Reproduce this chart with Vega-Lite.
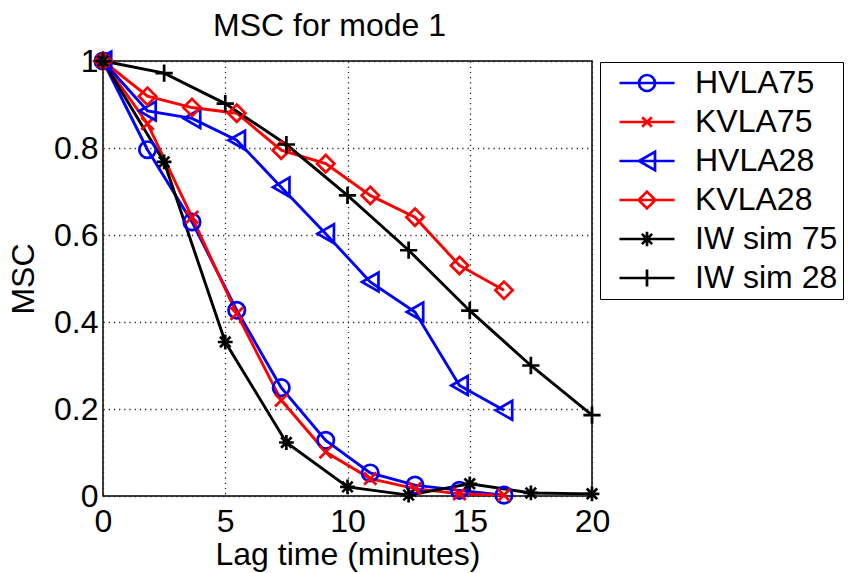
{
  "$schema": "https://vega.github.io/schema/vega-lite/v6.json",
  "width": 489,
  "height": 435,
  "autosize": {"type": "none"},
  "padding": {"left": 103, "top": 61, "right": 267, "bottom": 77},
  "background": "white",
  "config": {
    "font": "Liberation Sans",
    "view": {"stroke": "black", "strokeWidth": 1.5},
    "axis": {
      "labelFontSize": 32,
      "titleFontSize": 32,
      "labelColor": "black",
      "titleColor": "black",
      "titleFontWeight": "normal",
      "labelFlush": false,
      "labelOverlap": false,
      "labelBound": false,
      "domain": false,
      "ticks": false,
      "grid": true,
      "gridDash": [1.2, 4],
      "gridColor": "#222222",
      "gridWidth": 1.3
    }
  },
  "title": {
    "text": "MSC for mode 1",
    "fontSize": 32,
    "fontWeight": "normal",
    "color": "black",
    "anchor": "middle",
    "dx": -18,
    "offset": 2
  },
  "data": {
    "values": [
      {"s": "HVLA75", "x": 0, "y": 1}, {"s": "HVLA75", "x": 1.82, "y": 0.796}, {"s": "HVLA75", "x": 3.64, "y": 0.63}, {"s": "HVLA75", "x": 5.47, "y": 0.427}, {"s": "HVLA75", "x": 7.29, "y": 0.249}, {"s": "HVLA75", "x": 9.11, "y": 0.128}, {"s": "HVLA75", "x": 10.93, "y": 0.053}, {"s": "HVLA75", "x": 12.76, "y": 0.025}, {"s": "HVLA75", "x": 14.58, "y": 0.013}, {"s": "HVLA75", "x": 16.4, "y": 0.002},
      {"s": "KVLA75", "x": 0, "y": 1}, {"s": "KVLA75", "x": 1.82, "y": 0.856}, {"s": "KVLA75", "x": 3.64, "y": 0.641}, {"s": "KVLA75", "x": 5.47, "y": 0.419}, {"s": "KVLA75", "x": 7.29, "y": 0.22}, {"s": "KVLA75", "x": 9.11, "y": 0.101}, {"s": "KVLA75", "x": 10.93, "y": 0.04}, {"s": "KVLA75", "x": 12.76, "y": 0.017}, {"s": "KVLA75", "x": 14.58, "y": 0.005}, {"s": "KVLA75", "x": 16.4, "y": 0.002},
      {"s": "HVLA28", "x": 0, "y": 1}, {"s": "HVLA28", "x": 1.82, "y": 0.885}, {"s": "HVLA28", "x": 3.64, "y": 0.868}, {"s": "HVLA28", "x": 5.47, "y": 0.818}, {"s": "HVLA28", "x": 7.29, "y": 0.71}, {"s": "HVLA28", "x": 9.11, "y": 0.603}, {"s": "HVLA28", "x": 10.93, "y": 0.492}, {"s": "HVLA28", "x": 12.76, "y": 0.423}, {"s": "HVLA28", "x": 14.58, "y": 0.254}, {"s": "HVLA28", "x": 16.4, "y": 0.197},
      {"s": "KVLA28", "x": 0, "y": 1}, {"s": "KVLA28", "x": 1.82, "y": 0.919}, {"s": "KVLA28", "x": 3.64, "y": 0.893}, {"s": "KVLA28", "x": 5.47, "y": 0.88}, {"s": "KVLA28", "x": 7.29, "y": 0.795}, {"s": "KVLA28", "x": 9.11, "y": 0.764}, {"s": "KVLA28", "x": 10.93, "y": 0.691}, {"s": "KVLA28", "x": 12.76, "y": 0.641}, {"s": "KVLA28", "x": 14.58, "y": 0.53}, {"s": "KVLA28", "x": 16.4, "y": 0.473},
      {"s": "IW sim 75", "x": 0, "y": 1}, {"s": "IW sim 75", "x": 2.5, "y": 0.768}, {"s": "IW sim 75", "x": 5, "y": 0.354}, {"s": "IW sim 75", "x": 7.5, "y": 0.123}, {"s": "IW sim 75", "x": 10, "y": 0.021}, {"s": "IW sim 75", "x": 12.5, "y": 0.002}, {"s": "IW sim 75", "x": 15, "y": 0.028}, {"s": "IW sim 75", "x": 17.5, "y": 0.007}, {"s": "IW sim 75", "x": 20, "y": 0.005},
      {"s": "IW sim 28", "x": 0, "y": 1}, {"s": "IW sim 28", "x": 2.5, "y": 0.972}, {"s": "IW sim 28", "x": 5, "y": 0.902}, {"s": "IW sim 28", "x": 7.5, "y": 0.808}, {"s": "IW sim 28", "x": 10, "y": 0.691}, {"s": "IW sim 28", "x": 12.5, "y": 0.565}, {"s": "IW sim 28", "x": 15, "y": 0.426}, {"s": "IW sim 28", "x": 17.5, "y": 0.3}, {"s": "IW sim 28", "x": 20, "y": 0.186}
    ]
  },
  "encoding": {
    "x": {
      "field": "x", "type": "quantitative",
      "scale": {"domain": [0, 20], "nice": false, "zero": false},
      "axis": {"title": "Lag time (minutes)", "values": [0, 5, 10, 15, 20], "labelPadding": 10, "titlePadding": 2}
    },
    "y": {
      "field": "y", "type": "quantitative",
      "scale": {"domain": [0, 1], "nice": false},
      "axis": {"title": "MSC", "values": [0, 0.2, 0.4, 0.6, 0.8, 1], "format": "~g", "labelPadding": 5, "titlePadding": 13}
    }
  },
  "layer": [
    {
      "mark": {"type": "line", "strokeWidth": 2.9, "clip": false},
      "encoding": {
        "color": {"field": "s", "type": "nominal", "legend": null,
          "scale": {"domain": ["HVLA75", "KVLA75", "HVLA28", "KVLA28", "IW sim 75", "IW sim 28"], "range": ["#0000ff", "#ff0000", "#0000ff", "#ff0000", "#000000", "#000000"]}}
      }
    },
    {
      "mark": {"type": "point", "filled": false, "size": 270, "strokeWidth": 2.7, "opacity": 1, "clip": false},
      "encoding": {
        "color": {"field": "s", "type": "nominal", "legend": null,
          "scale": {"domain": ["HVLA75", "KVLA75", "HVLA28", "KVLA28", "IW sim 75", "IW sim 28"], "range": ["#0000ff", "#ff0000", "#0000ff", "#ff0000", "#000000", "#000000"]}},
        "shape": {"field": "s", "type": "nominal", "legend": null,
          "scale": {"domain": ["HVLA75", "KVLA75", "HVLA28", "KVLA28", "IW sim 75", "IW sim 28"],
            "range": [
              "M1,0A1,1,0,1,1,-1,0A1,1,0,1,1,1,0Z",
              "M-0.75,-0.75L0.75,0.75M-0.75,0.75L0.75,-0.75",
              "M-1,0L1,-1.15L1,1.15Z",
              "M0,-1.05L1.05,0L0,1.05L-1.05,0Z",
              "M-0.9,0H0.9M0,-0.9V0.9M-0.64,-0.64L0.64,0.64M-0.64,0.64L0.64,-0.64",
              "M-1.05,0H1.05M0,-1.05V1.05"
            ]}}
      }
    },
    {
      "mark": {"type": "point", "filled": false, "size": 256, "strokeWidth": 2.7, "opacity": 0},
      "encoding": {
        "color": {"field": "s", "type": "nominal",
          "scale": {"domain": ["HVLA75", "KVLA75", "HVLA28", "KVLA28", "IW sim 75", "IW sim 28"], "range": ["#0000ff", "#ff0000", "#0000ff", "#ff0000", "#000000", "#000000"]},
          "legend": {"title": null, "orient": "none", "legendX": 497, "legendY": 1, "strokeColor": "black", "fillColor": "white", "padding": 5, "cornerRadius": 0, "labelFontSize": 32, "labelColor": "black", "symbolSize": 256, "symbolStrokeWidth": 2.7, "symbolOpacity": 1, "symbolOffset": 26, "labelOffset": 32, "rowPadding": 7, "labelLimit": 400, "labelExpr": "datum.label + '\u00a0\u00a0\u00a0\u00a0'"}},
        "shape": {"field": "s", "type": "nominal",
          "scale": {"domain": ["HVLA75", "KVLA75", "HVLA28", "KVLA28", "IW sim 75", "IW sim 28"],
            "range": [
              "M-3.44,0H3.44M1,0A1,1,0,1,1,-1,0A1,1,0,1,1,1,0Z",
              "M-3.44,0H3.44M-0.6,-0.6L0.6,0.6M-0.6,0.6L0.6,-0.6",
              "M-3.44,0H3.44M-1,0L1,-1.15L1,1.15Z",
              "M-3.44,0H3.44M0,-1.05L1.05,0L0,1.05L-1.05,0Z",
              "M-3.44,0H3.44M-0.9,0H0.9M0,-0.9V0.9M-0.64,-0.64L0.64,0.64M-0.64,0.64L0.64,-0.64",
              "M-3.44,0H3.44M0,-1.05V1.05"
            ]},
          "legend": {"title": null, "orient": "none", "legendX": 497, "legendY": 1, "strokeColor": "black", "fillColor": "white", "padding": 5, "cornerRadius": 0, "labelFontSize": 32, "labelColor": "black", "symbolSize": 256, "symbolStrokeWidth": 2.7, "symbolOpacity": 1, "symbolOffset": 26, "labelOffset": 32, "rowPadding": 7, "labelLimit": 400, "labelExpr": "datum.label + '\u00a0\u00a0\u00a0\u00a0'"}}
      }
    }
  ],
  "resolve": {"scale": {"color": "independent", "shape": "independent"}}
}
